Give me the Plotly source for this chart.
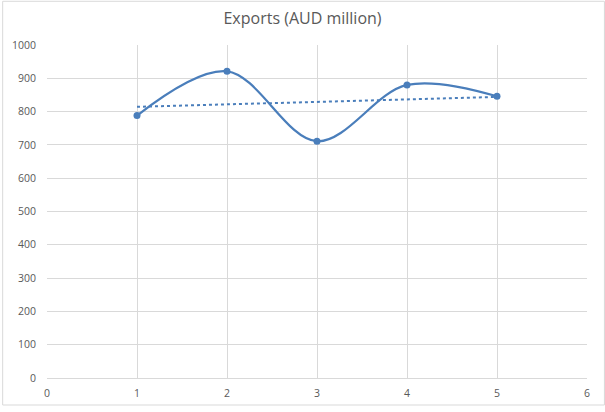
import numpy as np
import plotly.graph_objects as go

# data
periods = [1, 2, 3, 4, 5]
exports = [788, 921, 711, 880, 846]

line_color = "#4A7EBB"
grid_color = "#D9D9D9"
text_color = "#595959"

# linear trendline (least squares, like Excel)
slope, intercept = np.polyfit(periods, exports, 1)
trend = [slope * x + intercept for x in periods]

fig = go.Figure()

# smoothed line with markers
fig.add_trace(
    go.Scatter(
        x=periods,
        y=exports,
        mode="lines+markers",
        line=dict(color=line_color, width=2.25, shape="spline", smoothing=1),
        marker=dict(size=7, color=line_color),
        showlegend=False,
    )
)

# dotted trendline
fig.add_trace(
    go.Scatter(
        x=periods,
        y=trend,
        mode="lines",
        line=dict(color=line_color, width=2, dash="dot"),
        showlegend=False,
    )
)

fig.update_layout(
    width=605,
    height=412,
    margin=dict(l=45, r=18, t=45, b=28),
    paper_bgcolor="white",
    plot_bgcolor="white",
    font=dict(family="Open Sans, Arial", size=10.5, color=text_color),
    title=dict(
        text="Exports (AUD million)",
        x=0.5,
        xanchor="center",
        y=0.955,
        yanchor="middle",
        font=dict(size=16, color=text_color),
    ),
)

fig.update_xaxes(
    range=[0, 6],
    dtick=1,
    showgrid=True,
    gridcolor=grid_color,
    gridwidth=1,
    zeroline=False,
    showline=True,
    linecolor=grid_color,
    ticks="",
    ticklabelstandoff=5,
    fixedrange=True,
)
fig.update_yaxes(
    range=[0, 1000],
    dtick=100,
    showgrid=True,
    gridcolor=grid_color,
    gridwidth=1,
    zeroline=False,
    showline=False,
    ticks="",
    ticklabelstandoff=10,
    fixedrange=True,
)

# light border around the whole chart
fig.add_shape(
    type="rect",
    xref="paper",
    yref="paper",
    x0=-44.5 / 542,
    x1=1 + 17.5 / 542,
    y0=-27.5 / 339,
    y1=1 + 44.5 / 339,
    line=dict(color=grid_color, width=1),
)

fig.write_html(
    "out.html",
    config={"displayModeBar": False},
    post_script="document.body.style.margin='0';",
)
